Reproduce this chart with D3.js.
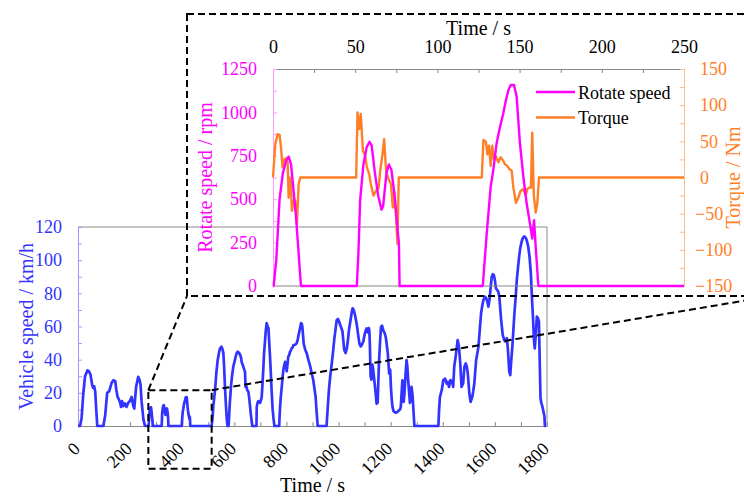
<!DOCTYPE html>
<html><head><meta charset="utf-8">
<script src="https://cdn.jsdelivr.net/npm/d3@7"></script>
<style>
html,body{margin:0;padding:0;background:#fff;}
svg{display:block;font-family:"Liberation Serif","Times New Roman",serif;}
</style></head>
<body>
<svg id="chart" width="744" height="497"></svg>
<script>
// ---------------- DATA ----------------
// Main chart: vehicle speed (km/h) vs time (s)
const speedTime = [0,8,14,20,27,36,42,48,54,58,62,66,70,74,
 97,104,112,120,129,136,143,147,152,157,162,165,169,174,180,186,193,199,206,212,216,223,231,236,240,244,251,257,
 270,272,274,276,278,280,281,282,284,286,287,
 321,322,323,325,327,329,330,332,334,336,337,339,341,342,344,346,347,
 398,400,402,404,406,408,410,412,413,415,417,418,420,422,424,426,428,429,430,431,
 513,517,519,526,531,536,541,545,551,555,558,561,564,568,571,574,
 578,582,587,591,596,601,605,609,613,617,622,626,628,634,638,641,643,646,650,654,657,660,664,669,
 685,686,689,692,696,699,703,705,708,711,714,718,721,724,728,731,734,737,740,743,747,750,754,
 772,775,778,782,785,788,792,795,798,801,804,807,811,814,817,820,824,827,833,839,843,848,852,856,859,861,864,866,872,878,884,890,897,903,908,912,916,920,
 954,958,963,968,974,979,984,989,993,998,1002,1006,1009,1015,1018,1022,1027,1032,1036,1040,1044,1048,1051,1054,1058,1063,1068,1072,1076,1080,1085,1089,1095,1101,1105,1108,1111,1114,1116,1118,1120,1123,1126,1130,1133,1137,1141,1146,1150,1155,1159,1163,1167,1172,1177,1181,1185,1189,1192,1194,1198,1201,1204,1207,1211,1214,1220,1226,1232,1236,1239,1242,1245,1248,1250,1253,1255,1258,1261,1264,1267,1270,1274,1277,1280,1283,1285,1288,1291,
 1383,1386,1389,1396,1402,1409,1415,1419,1424,1429,1435,1440,1444,1451,1457,1462,1467,1472,1478,1483,1488,1492,1496,1502,1507,1513,1517,1521,1528,1537,1542,1547,1552,1556,1562,1567,1571,1575,1580,1584,1588,1592,1596,1600,1604,1609,1613,1617,1620,1624,1630,1636,1640,1646,1650,1655,1659,1663,1667,1671,1675,1680,1684,1689,1693,1697,1701,1706,1712,1716,1720,1724,1728,1733,1738,1742,1746,1750,1753,1757,1761,1765,1769,1772,1775,1778,1781,1786,1790,1792,1796,1800];
const speedValue = [0,0,5,19,30,33.5,33,31,25,23,24,21,10,0,
 0,6,20,21,26,27.6,27,22,17.5,16,14,11.5,15,12,13.6,11.5,14,15,17.5,12,10.5,23.6,29.6,28,25,15,4,0,
 0,2,7.5,10,11,11.3,10.6,9,6,3,0,
 0,3,7.5,10.6,12.1,12.6,12.3,9.8,7.9,6.7,7,9.8,10.6,10.2,7.9,4.5,0,
 0,4.6,8.7,10.1,12.5,13.9,15.1,16.2,17.1,17.5,17.5,16.5,12.5,9.5,7.2,5.5,4.1,5.7,3.4,0,
 0,6,11.5,21.6,32,39.7,44,46.8,47.8,46,43.8,35,23.6,12,4,0,
 0,12,23.6,30,35.7,39,41.7,44,44.8,44.3,43,41,38.7,36,34,32.7,23.6,24,21.5,20.6,17,12.5,6,0,
 0,11.5,14,15,14.5,14,16,17.5,25,33.7,43.8,51.8,58,62,60,59,50,41.7,32,21.6,10,5,0,
 0,10,17,23.6,29,33.7,37,38.7,36,33,37,41.7,43,44.8,45.5,46.8,47.5,48.8,49,49.8,52,55.9,59,62,61.5,60,54,49.8,46,43.8,40,36.7,32,27.6,22,17.5,8,0,
 0,10,21.6,30,37.7,45,52.8,59,63.9,64.5,63,61,59.9,57,52,45.8,44,47,52,57.9,62,65.9,69,71,70,67,63,58.9,54,49.8,48,48.8,51,55.9,58,58.9,56.5,57,59,58,50,30,28,37,34,28,22,13.5,14,37.7,50,59.9,60.5,57.5,56,53.8,49,43.8,37,31.7,34,23.6,16,11.5,9,8.5,8,8.5,9.5,10,11.5,20,27.6,18,14.5,20,25.6,33,39.7,36,28,21.6,14,16,23.6,20,16,8,0,
 0,10,17.5,21.6,27.6,28.6,25.6,26.6,23.6,27.6,27,23.6,35.7,43.8,51.8,48,38,23.6,25.6,35.7,37.7,36,31.7,19.6,14.5,17.5,21,25.6,39.7,47.8,58,68,73,76,78,77,75,72,77,84,90,91.5,91,88,83,82,81,78,72,64,54.9,51.8,51,53,46,33,30.7,40,47.8,58,68,78,88,96,102,107,110,113,114.3,114,113,111,108,102,92,78,66,52,46.8,55,66,65,63,40,17,14,12.5,9,6,0,0];

// Inset: rotate speed (rpm) and torque (Nm) vs time (s)
const rpmTime  = [0,0.4,2,4,6,8,9.5,11,12,14,15.5,17,
 51,52,53,55,57,58.7,60,62,64,66,67,69,70.5,72,74,76,76.6,77,
 127.6,130,132.4,134,136,138.1,140.1,141.7,143.2,144.6,146.6,148.2,150.2,152.3,154.3,156.3,157.7,158.8,159.8,161.4,250];
const rpmValue = [0,0,150,500,650,720,745,700,600,400,200,0,
 0,200,494,700,800,831,810,650,520,440,460,650,700,670,520,300,245,0,
 0,302,571,668,822,917,995,1071,1129,1158,1158,1091,822,629,475,360,273,379,225,0,0];
const torqueTime  = [0,1.4,2.8,4,4.9,5.8,6.9,8.1,8.9,9.5,10.1,10.8,11.5,12.5,13.5,14.6,15.6,16.6,
 50.6,51.4,52.4,53.4,54.7,56.1,57.1,58.5,59.5,61.1,62.7,64.2,65.2,66.6,67.6,68.8,70.2,71.7,72.9,73.7,74.9,75.7,76.5,
 127,128,129.5,130.4,131.4,132.4,133.4,134.4,135.6,137.1,138.5,140.1,141.1,142.5,143.8,145.2,146.2,147.8,149.2,150.6,152.2,153.7,154.7,155.7,156.9,157.7,158.6,159.8,160.8,161.8,250];
const torqueValue = [0,46,60,59,41.5,14,25,27,21,-28,0,-5,-46,-32,-32,-64.5,-9,0,
 0,90,67,87.7,37,30,14,5,-9,-25,-18,-15,9,32,53,9,-2,-9,-41.5,-19,-55,-92,0,
 0,52,49.6,32,44,16,44,25,29,21,28,23,18.5,16,11.6,9,-14,-35,-28,-18.5,-16,-25,-16,-14,-14,62,-23,-48.5,-35,0,0];

const mainXTicks = [0,200,400,600,800,1000,1200,1400,1600,1800];
const mainYTicks = [0,20,40,60,80,100,120];
const insetXTicks = [0,50,100,150,200,250];
const rpmTicks = [0,250,500,750,1000,1250];
const torqueTicks = [-150,-100,-50,0,50,100,150];
const zoomRange = [270,513];       // time window magnified by the inset (s)
const zoomSpeed = [-25.8,21.6];    // vertical extent of the zoom box (km/h)
const legendLabels = ["Rotate speed","Torque"];

// ---------------- STYLE / LAYOUT ----------------
const BLUE="#3333ff", MAG="#ff00ff", ORG="#ff7f27";
const svg = d3.select("#chart");
const F = 18, FT = 20;

// ---------- main chart ----------
const xM = d3.scaleLinear([0,1800],[78,547]);
const yM = d3.scaleLinear([0,120],[426,227]);
const gMain = svg.append("g");

// frame
gMain.append("line").attr("x1",xM(0)).attr("x2",xM(1800)).attr("y1",yM(120)).attr("y2",yM(120)).attr("stroke","#888").attr("stroke-width",1);
gMain.append("line").attr("x1",xM(1800)).attr("x2",xM(1800)).attr("y1",yM(120)).attr("y2",yM(0)).attr("stroke","#888").attr("stroke-width",1);

// bottom axis ticks
const ax = gMain.append("g").attr("transform",`translate(0,${yM(0)})`)
 .call(d3.axisBottom(xM).tickValues(d3.range(0,1801,100)).tickSize(-4).tickFormat(""));
ax.select(".domain").attr("stroke","#888");
ax.selectAll(".tick line").attr("stroke","#888");
gMain.selectAll(".xlab").data(mainXTicks).join("text")
 .attr("transform",d=>`translate(${xM(d)+3},450) rotate(-45)`)
 .attr("text-anchor","end").attr("font-size",F).attr("fill","#000").text(d=>d);

// left axis
const ay = gMain.append("g").attr("transform",`translate(${xM(0)},0)`)
 .call(d3.axisLeft(yM).tickValues(d3.range(0,121,10)).tickSize(-4).tickPadding(16)
   .tickFormat(d=>mainYTicks.includes(d)?d:""));
ay.select(".domain").attr("stroke","#9999ff");
ay.selectAll(".tick line").attr("stroke","#9999ff");
ay.selectAll(".tick text").attr("font-size",F).attr("fill",BLUE).attr("font-family","Liberation Serif, Times New Roman, serif");

gMain.append("text").attr("transform",`translate(33,${(yM(0)+yM(120))/2}) rotate(-90)`)
 .attr("text-anchor","middle").attr("font-size",FT).attr("fill",BLUE).text("Vehicle speed / km/h");
gMain.append("text").attr("x",(xM(0)+xM(1800))/2).attr("y",492)
 .attr("text-anchor","middle").attr("font-size",FT).attr("fill","#000").text("Time / s");

const speedData = speedTime.map((t,i)=>[t,speedValue[i]]);
gMain.append("path").datum(speedData)
 .attr("d",d3.line().x(d=>xM(d[0])).y(d=>yM(d[1])))
 .attr("fill","none").attr("stroke",BLUE).attr("stroke-width",2.7).attr("stroke-linejoin","round");

// ---------- inset ----------
const xI = d3.scaleLinear([0,250],[273,684]);
const yR = d3.scaleLinear([0,1250],[286,69]);
const yT = d3.scaleLinear([-150,150],[286,69]);
const gIn = svg.append("g");

// bottom line
gIn.append("line").attr("x1",xI(0)).attr("x2",xI(250)).attr("y1",yR(0)).attr("y2",yR(0)).attr("stroke","#888");

const at = gIn.append("g").attr("transform",`translate(0,${yR(1250)})`)
 .call(d3.axisTop(xI).tickValues(d3.range(0,251,25)).tickSize(-4).tickPadding(16)
   .tickFormat(d=>insetXTicks.includes(d)?d:""));
at.select(".domain").attr("stroke","#888");
at.selectAll(".tick line").attr("stroke","#888");
at.selectAll(".tick text").attr("font-size",F).attr("fill","#000").attr("font-family","Liberation Serif, Times New Roman, serif");

const al = gIn.append("g").attr("transform",`translate(${xI(0)},0)`)
 .call(d3.axisLeft(yR).tickValues(d3.range(0,1251,125)).tickSize(-4).tickPadding(16)
   .tickFormat(d=>rpmTicks.includes(d)?d:""));
al.select(".domain").attr("stroke","#ff99ff");
al.selectAll(".tick line").attr("stroke","#ff99ff");
al.selectAll(".tick text").attr("font-size",F).attr("fill",MAG).attr("font-family","Liberation Serif, Times New Roman, serif");

const ar = gIn.append("g").attr("transform",`translate(${xI(250)},0)`)
 .call(d3.axisRight(yT).tickValues(d3.range(-150,151,25)).tickSize(-4).tickPadding(16)
   .tickFormat(d=>torqueTicks.includes(d)?(d<0?"\u2212"+(-d):String(d)):""));
ar.select(".domain").attr("stroke","#ffbb88");
ar.selectAll(".tick line").attr("stroke","#ffbb88");
ar.selectAll(".tick text").attr("font-size",F).attr("fill",ORG).attr("font-family","Liberation Serif, Times New Roman, serif")
 .attr("dx",d=>d<0?-5:0);

gIn.append("text").attr("x",(xI(0)+xI(250))/2).attr("y",35)
 .attr("text-anchor","middle").attr("font-size",FT).attr("fill","#000").text("Time / s");
gIn.append("text").attr("transform",`translate(212,${(yR(0)+yR(1250))/2}) rotate(-90)`)
 .attr("text-anchor","middle").attr("font-size",FT).attr("fill",MAG).text("Rotate speed / rpm");
gIn.append("text").attr("transform",`translate(739.5,${(yR(0)+yR(1250))/2}) rotate(-90)`)
 .attr("text-anchor","middle").attr("font-size",FT).attr("fill",ORG).text("Torque / Nm");

const rpmData = rpmTime.map((t,i)=>[t,rpmValue[i]]);
const tqData = torqueTime.map((t,i)=>[t,torqueValue[i]]);
gIn.append("path").datum(tqData)
 .attr("d",d3.line().x(d=>xI(d[0])).y(d=>yT(d[1])))
 .attr("fill","none").attr("stroke",ORG).attr("stroke-width",2.4).attr("stroke-linejoin","round");
gIn.append("path").datum(rpmData)
 .attr("d",d3.line().x(d=>xI(d[0])).y(d=>yR(d[1])))
 .attr("fill","none").attr("stroke",MAG).attr("stroke-width",2.4).attr("stroke-linejoin","round");

// legend
const lg = gIn.append("g");
[MAG,ORG].forEach((c,i)=>{
  const y = 92 + i*25.5;
  lg.append("line").attr("x1",536).attr("x2",575).attr("y1",y).attr("y2",y).attr("stroke",c).attr("stroke-width",2.4);
  lg.append("text").attr("x",578).attr("y",y+6.5).attr("font-size",F).attr("fill","#000").text(legendLabels[i]);
});

// ---------- zoom annotation (dashed) ----------
const dash = {stroke:"#000","stroke-width":2,"stroke-dasharray":"7,4",fill:"none"};
function styl(s){Object.entries(dash).forEach(([k,v])=>s.attr(k,v));return s;}
const bx0 = xM(zoomRange[0]), bx1 = xM(zoomRange[1]);
const by0 = yM(zoomSpeed[1]), by1 = yM(zoomSpeed[0]);
styl(svg.append("rect").attr("x",bx0).attr("y",by0).attr("width",bx1-bx0).attr("height",by1-by0));
const IB = {x0:187, y0:14, x1:772, y1:296};
styl(svg.append("rect").attr("x",IB.x0).attr("y",IB.y0).attr("width",IB.x1-IB.x0).attr("height",IB.y1-IB.y0));
styl(svg.append("line").attr("x1",bx0).attr("y1",by0).attr("x2",IB.x0).attr("y2",IB.y1));
styl(svg.append("line").attr("x1",bx1).attr("y1",by0).attr("x2",IB.x1).attr("y2",IB.y1));
</script>
</body></html>
